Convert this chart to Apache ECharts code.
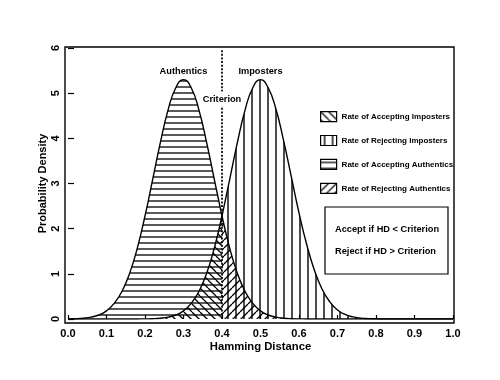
<!DOCTYPE html>
<html><head><meta charset="utf-8">
<script src="https://cdn.jsdelivr.net/npm/echarts@6/dist/echarts.min.js"></script>
<style>html,body{margin:0;padding:0;background:#fff}#c{width:500px;height:380px}</style>
</head><body><div id="c"></div>
<script>
// ---- data ----
const hd = [0.00,0.02,0.04,0.06,0.08,0.10,0.12,0.14,0.16,0.18,
            0.20,0.22,0.24,0.26,0.28,0.30,0.32,0.34,0.36,0.38,
            0.40,0.42,0.44,0.46,0.48,0.50,0.52,0.54,0.56,0.58,
            0.60,0.62,0.64,0.66,0.68,0.70,0.72,0.74,0.76,0.78,
            0.80,0.82,0.84,0.86,0.88,0.90,0.92,0.94,0.96,0.98,1.00];
const authentics = [0.003,0.007,0.018,0.041,0.089,0.18,0.345,0.61,1.01,1.57,
                    2.28,3.09,3.91,4.63,5.12,5.30,5.12,4.63,3.91,3.09,
                    2.28,1.57,1.01,0.61,0.345,0.18,0.089,0.041,0.018,0.007,
                    0.003,0.001,0,0,0,0,0,0,0,0,
                    0,0,0,0,0,0,0,0,0,0,0];
const imposters = [0,0,0,0,0,0,0,0,0,0.001,
                   0.003,0.007,0.018,0.041,0.089,0.18,0.345,0.61,1.01,1.57,
                   2.28,3.09,3.91,4.63,5.12,5.30,5.12,4.65,3.95,3.15,
                   2.35,1.65,1.08,0.66,0.38,0.20,0.10,0.047,0.02,0.008,
                   0.003,0.001,0,0,0,0,0,0,0,0,0];
const criterion = 0.4;
const criterionTop = 5.95;
const xTickLabels = ['0.0','0.1','0.2','0.3','0.4','0.5','0.6','0.7','0.8','0.9','1.0'];
const yTickLabels = ['0','1','2','3','4','5','6'];
const legendNames = ['Rate of Accepting Imposters','Rate of Rejecting Imposters',
                     'Rate of Accepting Authentics','Rate of Rejecting Authentics'];
const curveLabels = [['Authentics',0.3,5.49],['Imposters',0.5,5.49]];
const criterionLabel = ['Criterion',0.4,4.87];
const ruleLines = ['Accept if HD < Criterion','Reject if HD > Criterion'];
const xTitle = 'Hamming Distance';
const yTitle = 'Probability Density';

// ---- font selection / sizing ----
const mctx = document.createElement('canvas').getContext('2d');
function widthOf(font, text){ mctx.font = font; return mctx.measureText(text).width; }
const probe = 'Rate of Accepting Imposters 0123';
const hasNarrow = widthOf('bold 50px "Liberation Sans Narrow", monospace', probe) !==
                  widthOf('bold 50px monospace', probe);
const FAM = hasNarrow ? '"Liberation Sans Narrow"' : '"Liberation Sans"';
const FONT = FAM + ',Arial,sans-serif';
function fit(text, target, maxSize){
  const w = widthOf('bold 100px ' + FONT, text);
  return Math.min(maxSize, Math.floor(100 * target / w * 4) / 4);
}
const fsCurve = fit('Authentics', 49, 11.5);
const fsLegend = fit(legendNames[2], 113, 10.5);
const fsRule = fit(ruleLines[0], 106, 10.5);
const fsXT = fit(xTitle, 102, 12.5);
const fsYT = fit(yTitle, 100, 12.5);
const fsTick = 11;

// ---- styling helpers ----
function hatch(kind, s, lw){
  const c = document.createElement('canvas'); c.width = s; c.height = s;
  const g = c.getContext('2d'); g.strokeStyle = '#000'; g.lineWidth = lw; g.beginPath();
  if (kind === 'h') { g.moveTo(0, s/2); g.lineTo(s, s/2); }
  else if (kind === 'v') { g.moveTo(s/2, 0); g.lineTo(s/2, s); }
  else if (kind === 'b') { for (const o of [-s,0,s]) { g.moveTo(o,0); g.lineTo(o+s,s); } }
  else { for (const o of [-s,0,s]) { g.moveTo(o,s); g.lineTo(o+s,0); } }
  g.stroke();
  return {image: c, repeat: 'repeat'};
}
const pats = [hatch('b',8,1.3), hatch('v',8,1.4), hatch('h',6,1.3), hatch('s',8,1.3)];

const ic = hd.indexOf(criterion);
const pts = (arr, a, b) => hd.slice(a, b+1).map((x,i) => [x, arr[a+i]]);
const partData = [pts(imposters,0,ic), pts(imposters,ic,hd.length-1),
                  pts(authentics,0,ic), pts(authentics,ic,hd.length-1)];

const series = legendNames.map((n,i) => ({
  name: n, type: 'line', data: partData[i], smooth: true, showSymbol: false,
  silent: true, z: 2,
  lineStyle: {color: '#000', width: 1.4},
  itemStyle: {color: '#000'},
  areaStyle: {color: pats[i], opacity: 1}
}));
series[0].markLine = {
  silent: true, symbol: 'none', animation: false,
  lineStyle: {color: '#000', type: [2, 1.6], width: 1.7, opacity: 1},
  label: {show: false},
  data: [[{coord: [criterion, criterionTop]}, {coord: [criterion, 0]}]]
};
series.push({
  name: '_labels', type: 'scatter', z: 6, symbolSize: 0, silent: true,
  itemStyle: {opacity: 1, color: '#000'},
  data: curveLabels.map(d => ({value: [d[1], d[2]], name: d[0]})).concat([{
    value: [criterionLabel[1], criterionLabel[2]], name: criterionLabel[0],
    label: {backgroundColor: '#fff', padding: [3, 1]}
  }]),
  label: {show: true, position: 'inside', formatter: p => p.name, opacity: 1,
          color: '#000', fontFamily: FONT, fontWeight: 'bold', fontSize: fsCurve}
});

const chart = echarts.init(document.getElementById('c'), null, {renderer: 'canvas'});
chart.setOption({
  animation: false,
  backgroundColor: '#fff',
  textStyle: {fontFamily: FONT, color: '#000'},
  grid: {left: 68, right: 47, top: 48, bottom: 61},
  xAxis: {
    type: 'value', min: 0, max: 1, interval: 0.1, offset: 4,
    axisLine: {show: false},
    axisTick: {show: true, inside: true, length: 4, lineStyle: {color: '#000', width: 1.2}},
    splitLine: {show: false},
    axisLabel: {margin: 5, color: '#000', fontFamily: FONT, fontWeight: 'bold', fontSize: fsTick,
                formatter: v => xTickLabels[Math.round(v*10)]},
    name: xTitle, nameLocation: 'middle', nameGap: 18, nameMoveOverlap: false,
    nameTextStyle: {color: '#000', fontFamily: FONT, fontWeight: 'bold', fontSize: fsXT}
  },
  yAxis: {
    type: 'value', min: 0, max: 6, interval: 1, offset: 3,
    axisLine: {show: false},
    axisTick: {show: true, inside: true, length: 6, lineStyle: {color: '#000', width: 1.2}},
    splitLine: {show: false},
    axisLabel: {margin: 4, rotate: 90, color: '#000', fontFamily: FONT, fontWeight: 'bold', fontSize: fsTick,
                formatter: v => yTickLabels[Math.round(v)]},
    name: yTitle, nameLocation: 'middle', nameGap: 17, nameMoveOverlap: false,
    nameTextStyle: {color: '#000', fontFamily: FONT, fontWeight: 'bold', fontSize: fsYT}
  },
  legend: {
    orient: 'vertical', left: 315, top: 106, itemWidth: 16, itemHeight: 10, itemGap: 12.7,
    selectedMode: false,
    textStyle: {color: '#000', fontFamily: FONT, fontWeight: 'bold', fontSize: fsLegend, lineHeight: 10},
    data: legendNames.map((n,i) => ({name: n, icon: 'rect',
      itemStyle: {color: pats[i], borderColor: '#000', borderWidth: 1.2}}))
  },
  graphic: [
    {type: 'rect', silent: true, z: 10, shape: {x: 65, y: 47, width: 389, height: 276},
     style: {fill: null, stroke: '#000', lineWidth: 1.4}},
    {type: 'rect', silent: true, z: 10, shape: {x: 325, y: 207, width: 123, height: 67},
     style: {fill: '#fff', stroke: '#000', lineWidth: 1.2}},
    {type: 'text', silent: true, z: 11, left: 335, top: 225,
     style: {text: ruleLines[0], fill: '#000', font: 'bold ' + fsRule + 'px ' + FONT}},
    {type: 'text', silent: true, z: 11, left: 335, top: 247,
     style: {text: ruleLines[1], fill: '#000', font: 'bold ' + fsRule + 'px ' + FONT}}
  ],
  series: series
});
</script></body></html>
